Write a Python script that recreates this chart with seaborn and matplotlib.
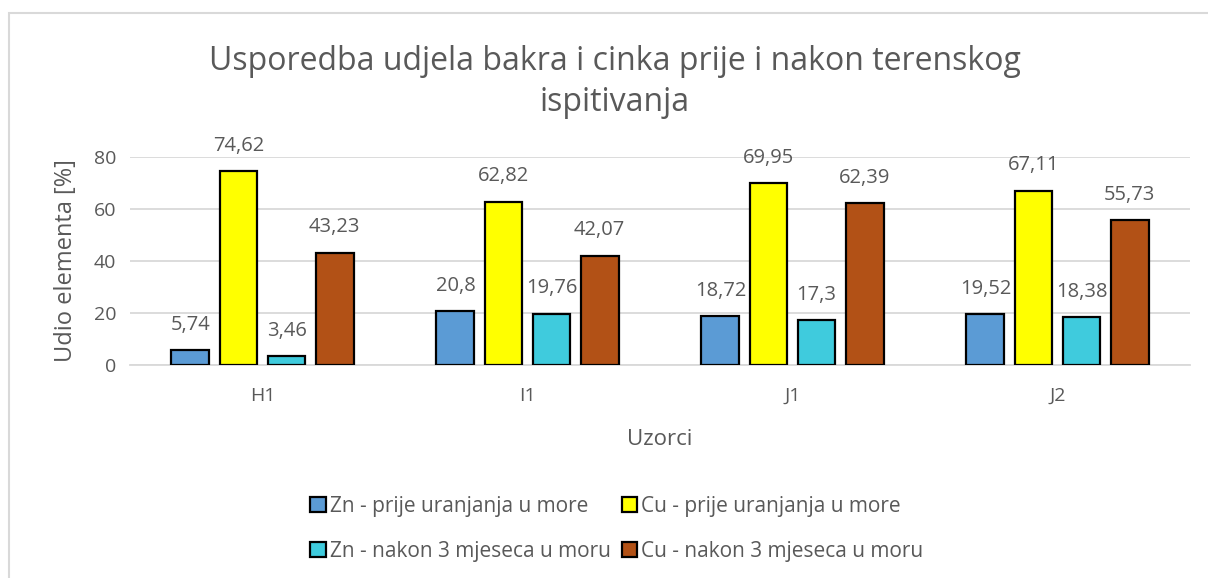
import matplotlib
matplotlib.use("Agg")
import matplotlib.pyplot as plt
from matplotlib.patches import Rectangle
import seaborn as sns
import pandas as pd

samples = ["H1", "I1", "J1", "J2"]
series_names = [
    "Zn - prije uranjanja u more",
    "Cu - prije uranjanja u more",
    "Zn - nakon 3 mjeseca u moru",
    "Cu - nakon 3 mjeseca u moru",
]
zn_before = [5.74, 20.8, 18.72, 19.52]
cu_before = [74.62, 62.82, 69.95, 67.11]
zn_after = [3.46, 19.76, 17.3, 18.38]
cu_after = [43.23, 42.07, 62.39, 55.73]
colors = ["#5B9BD5", "#FFFF00", "#3FCBDD", "#B25116"]

rows = []
for name, vals in zip(series_names, [zn_before, cu_before, zn_after, cu_after]):
    for s, v in zip(samples, vals):
        rows.append({"Uzorak": s, "Serija": name, "Udio": v})
df = pd.DataFrame(rows)

sns.set_theme(style="white")
plt.rcParams["font.family"] = ["Open Sans", "DejaVu Sans"]
text_color = "#595959"

fig = plt.figure(figsize=(12.08, 5.78), dpi=100)
ax = fig.add_axes([130 / 1208, 1 - 365 / 578, 1060 / 1208, 208 / 578])

sns.barplot(
    data=df, x="Uzorak", y="Udio", hue="Serija", order=samples,
    hue_order=series_names, palette=colors, width=0.725, gap=0.21,
    edgecolor="black", linewidth=1.6, saturation=1, ax=ax, zorder=3,
)

for cont in ax.containers:
    labels = [f"{v:g}".replace(".", ",") for v in cont.datavalues]
    ax.bar_label(cont, labels=labels, padding=11, fontsize=14.5, color=text_color)

ax.set_ylim(0, 80)
ax.set_yticks([0, 20, 40, 60, 80])
ax.yaxis.grid(True, color="#D9D9D9", linewidth=1.3, zorder=0)
ax.set_axisbelow(True)
for sp in ["top", "right", "left"]:
    ax.spines[sp].set_visible(False)
ax.spines["bottom"].set_color("#D9D9D9")
ax.spines["bottom"].set_linewidth(1.3)
ax.tick_params(axis="both", length=0, labelsize=14, labelcolor=text_color, pad=10)
ax.tick_params(axis="x", pad=16)
ax.set_xlabel("Uzorci", fontsize=16, color=text_color, labelpad=17)
ax.set_ylabel("Udio elementa [%]", fontsize=17, color=text_color, labelpad=11)

ax.legend_.remove()
handles, labels = ax.get_legend_handles_labels()
order = [0, 2, 1, 3]
fig.legend(
    [handles[i] for i in order], [labels[i] for i in order], ncol=2, loc="center",
    bbox_to_anchor=(617 / 1208, 1 - 529 / 578),
    frameon=False, fontsize=15, labelcolor=text_color, handlelength=0.75,
    handleheight=0.75, handletextpad=0.2, columnspacing=0.5, labelspacing=1.15,
)

fig.text(615 / 1208, 1 - 82 / 578,
         "Usporedba udjela bakra i cinka prije i nakon terenskog\nispitivanja",
         ha="center", va="center", fontsize=23, color=text_color,
         linespacing=1.3)

fig.patches.append(Rectangle((9 / 1208, -0.1), 1.2, 1.1 - 13 / 578, transform=fig.transFigure,
                             fill=False, edgecolor="#D9D9D9", linewidth=1.5))

fig.savefig("out.png", dpi=100)
